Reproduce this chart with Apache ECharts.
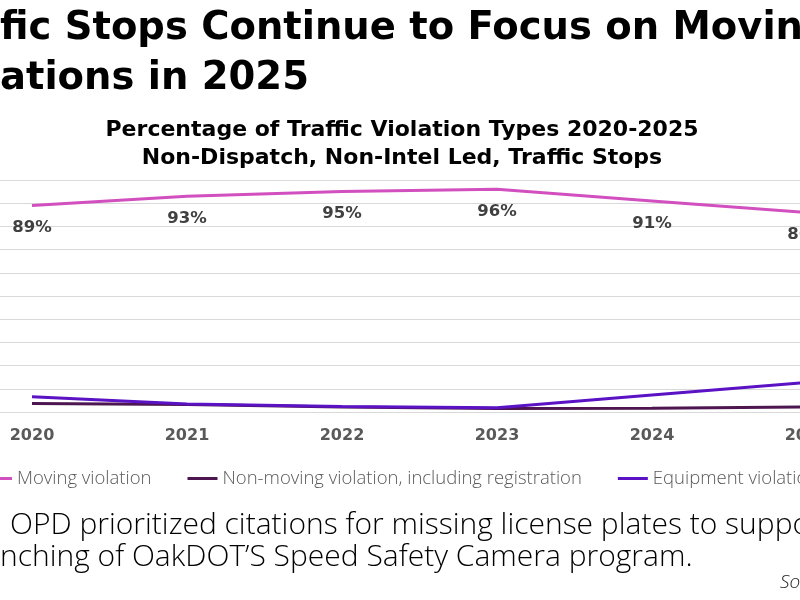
<!DOCTYPE html>
<html>
<head>
<meta charset="utf-8">
<script src="https://cdn.jsdelivr.net/npm/echarts@6/dist/echarts.min.js"></script>
<style>
  html, body { margin: 0; padding: 0; background: #fff; }
  #chart { width: 800px; height: 600px; }
</style>
</head>
<body>
<div id="chart"></div>
<script>
const years = ['2020', '2021', '2022', '2023', '2024', '2025'];
const movingData = [89, 93, 95, 96, 91, 86];
const nonMovingData = [3.7, 3.2, 2.2, 1.5, 1.6, 2.2];
const equipmentData = [6.6, 3.4, 2.4, 1.8, 7.3, 12.8];
const seriesNames = ['Moving violation', 'Non-moving violation, including registration', 'Equipment violation'];

const boldFont = '"DejaVu Sans", sans-serif';
const lightFont = '"Open Sans", sans-serif';

const chart = echarts.init(document.getElementById('chart'));

const lineSeries = (name, data, color, showLabel) => ({
  name: name,
  type: 'line',
  data: data,
  symbol: 'circle',
  symbolSize: 0,
  showSymbol: true,
  lineStyle: { width: 3, color: color },
  itemStyle: { color: color },
  label: {
    show: showLabel,
    position: 'bottom',
    distance: 14,
    formatter: p => p.value + '%',
    fontFamily: boldFont,
    fontWeight: 'bold',
    fontSize: 16.5,
    color: '#404040'
  }
});

const option = {
  animation: false,
  backgroundColor: '#fff',
  color: ['#d24fbf', '#4d1650', '#5a12c4'],
  grid: { left: -45.5, top: 180, width: 930, height: 232, containLabel: false, outerBoundsMode: 'none' },
  legend: {
    left: -23,
    top: 464,
    width: 1400,
    itemWidth: 30,
    itemHeight: 3,
    itemGap: 36,
    icon: 'rect',
    textStyle: { fontFamily: lightFont, fontSize: 18.5, color: '#595959', fontWeight: 300 },
    data: seriesNames
  },
  xAxis: {
    type: 'category',
    data: years,
    boundaryGap: true,
    axisLine: { lineStyle: { color: '#d9d9d9', width: 1 } },
    axisTick: { show: false },
    axisLabel: {
      margin: 16,
      fontFamily: boldFont,
      fontWeight: 'bold',
      fontSize: 16,
      color: '#595959'
    }
  },
  yAxis: {
    type: 'value',
    min: 0,
    max: 100,
    interval: 10,
    axisLabel: { show: false },
    axisLine: { show: false },
    axisTick: { show: false },
    splitLine: { lineStyle: { color: '#d9d9d9', width: 1 } }
  },
  graphic: [
    { type: 'text', x: 0, y: 29, style: { text: 'fic Stops Continue to Focus on Moving', font: 'bold 38.5px ' + boldFont, fill: '#000', verticalAlign: 'middle' } },
    { type: 'text', x: 0, y: 79, style: { text: 'ations in 2025', font: 'bold 38.5px ' + boldFont, fill: '#000', verticalAlign: 'middle' } },
    { type: 'text', x: 402, y: 130, style: { text: 'Percentage of Traffic Violation Types 2020-2025', font: 'bold 22px ' + boldFont, fill: '#000', align: 'center', verticalAlign: 'middle' } },
    { type: 'text', x: 402, y: 158, style: { text: 'Non-Dispatch, Non-Intel Led, Traffic Stops', font: 'bold 22px ' + boldFont, fill: '#000', align: 'center', verticalAlign: 'middle' } },
    { type: 'text', x: 10, y: 525, style: { text: 'OPD prioritized citations for missing license plates to support', font: '300 30px ' + lightFont, fill: '#000', verticalAlign: 'middle' } },
    { type: 'text', x: 0, y: 557, style: { text: 'nching of OakDOT\u2019S Speed Safety Camera program.', font: '300 30px ' + lightFont, fill: '#000', verticalAlign: 'middle' } },
    { type: 'text', x: 780, y: 583, style: { text: 'Source', font: 'italic 300 19px ' + lightFont, fill: '#222', verticalAlign: 'middle' } }
  ],
  series: [
    lineSeries(seriesNames[0], movingData, '#d24fbf', true),
    lineSeries(seriesNames[1], nonMovingData, '#4d1650', false),
    lineSeries(seriesNames[2], equipmentData, '#5a12c4', false)
  ]
};

chart.setOption(option);
</script>
</body>
</html>
